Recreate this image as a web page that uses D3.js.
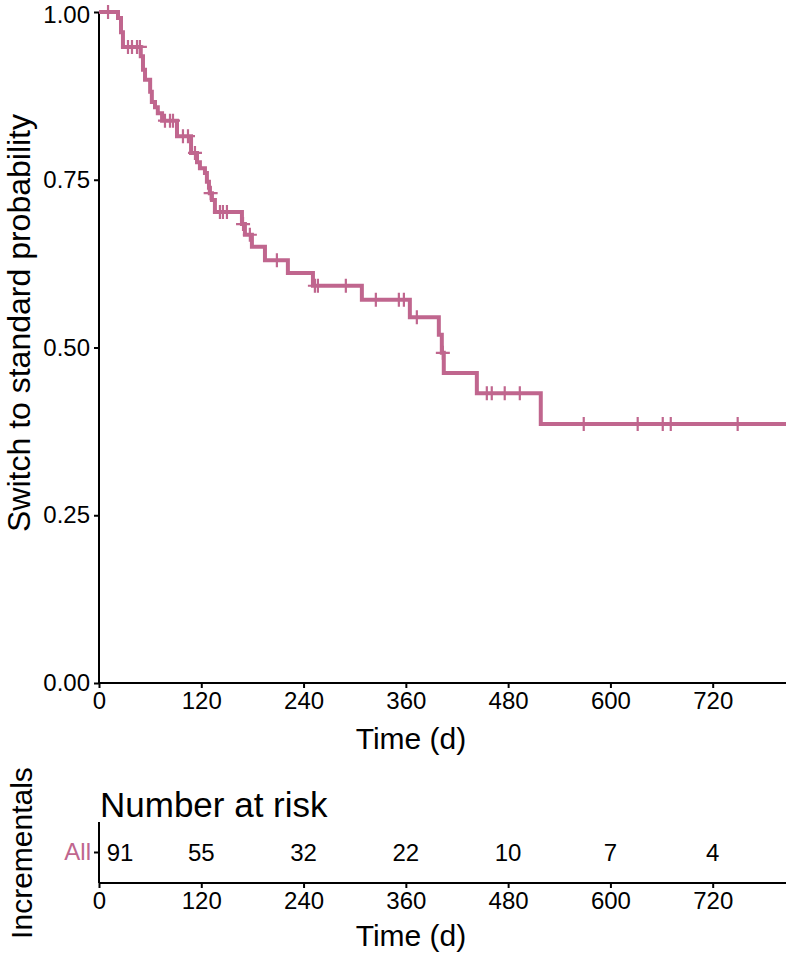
<!DOCTYPE html>
<html><head><meta charset="utf-8">
<script src="https://cdn.jsdelivr.net/npm/d3@7"></script>
<style>
html,body{margin:0;padding:0;background:#fff;}
svg text{font-family:"Liberation Sans",Arial,Helvetica,sans-serif;}
</style></head>
<body><div id="chart"></div>
<script>
// Event times (days) and survival after each drop
const eventTimes = [22.3, 25.8, 28.1, 49, 51.6, 54, 60, 62, 65.7, 69, 74, 91.5, 108, 115, 118.4, 124.3, 126.6, 129, 130, 132.5, 136, 167.7, 171.2, 179.4, 194.7, 221.6, 251, 308.4, 364.7, 398.7, 402.2, 404.5, 443.3, 518.3];
const survival   = [0.991, 0.970, 0.948, 0.934, 0.914, 0.899, 0.881, 0.866, 0.858, 0.849, 0.838, 0.815, 0.790, 0.776, 0.767, 0.760, 0.747, 0.738, 0.730, 0.720, 0.702, 0.684, 0.668, 0.650, 0.630, 0.611, 0.592, 0.571, 0.545, 0.519, 0.492, 0.462, 0.432, 0.386];
const censorTimes = [10.6, 34, 38.7, 44.6, 48, 77.4, 83.3, 86.8, 98.5, 104.4, 112.6, 131, 141.9, 145.4, 150.1, 169, 177, 208.7, 253.3, 256.8, 289.6, 324.8, 351.8, 357.7, 372.9, 403.4, 455, 460.8, 476, 493.7, 568.7, 632, 661.4, 670.8, 749.3];
const endTime = 806;
const xTicks = [0, 120, 240, 360, 480, 600, 720];
const yTicks = [0, 0.25, 0.5, 0.75, 1];
const riskTimes = [0, 120, 240, 360, 480, 600, 720];
const riskCounts = [91, 55, 32, 22, 10, 7, 4];
const groupLabel = "All";

const W = 788, H = 957;
const col = "#c0668e";
const svg = d3.select("#chart").append("svg").attr("width", W).attr("height", H);

const x = d3.scaleLinear().domain([0, endTime]).range([99, 786]);
const y = d3.scaleLinear().domain([0, 1]).range([683, 12]);

function styleAxis(g) {
  g.select(".domain").attr("stroke", "#000").attr("stroke-width", 2);
  g.selectAll(".tick line").attr("stroke", "#000").attr("stroke-width", 2);
  g.selectAll(".tick text").attr("fill", "#000").style("font-size", "24px");
}

// Axes
const yAxis = svg.append("g").attr("transform", `translate(${x(0)},0)`)
  .call(d3.axisLeft(y).tickValues(yTicks).tickFormat(d3.format(".2f")).tickSize(5).tickPadding(4));
const xAxis = svg.append("g").attr("transform", `translate(0,${y(0)})`)
  .call(d3.axisBottom(x).tickValues(xTicks).tickSize(5).tickPadding(4));
styleAxis(yAxis); styleAxis(xAxis);
// keep the top label inside the picture
yAxis.selectAll(".tick").filter(d => d === 1).select("text").attr("y", 3);
xAxis.select(".domain").attr("d", `M${x(0)},0H${x(endTime)}`);
yAxis.select(".domain").attr("d", `M0,${y(0)}V${y(1)}`);

// Curve
const pts = [[0, 1]].concat(eventTimes.map((t, i) => [t, survival[i]])).concat([[endTime, survival[survival.length - 1]]]);
svg.append("path").datum(pts)
  .attr("fill", "none").attr("stroke", col).attr("stroke-width", 4)
  .attr("d", d3.line().x(d => x(d[0])).y(d => y(d[1])).curve(d3.curveStepAfter));

const bis = d3.bisector(d => d).right;
function survAt(t) { const i = bis(eventTimes, t); return i === 0 ? 1 : survival[i - 1]; }
const cs = 7;
svg.append("g").selectAll("path").data(censorTimes).join("path")
  .attr("fill", "none").attr("stroke", col).attr("stroke-width", 2.2)
  .attr("d", t => {
    const cx = x(t), cy = y(survAt(t));
    return `M${cx - cs},${cy}H${cx + cs}M${cx},${cy - cs}V${cy + cs}`;
  });

// Titles
svg.append("text").attr("x", 411).attr("y", 749)
  .attr("text-anchor", "middle").style("font-size", "30px").text("Time (d)");
svg.append("text").attr("transform", `translate(30,323) rotate(-90)`)
  .attr("text-anchor", "middle").style("font-size", "32px").text("Switch to standard probability");

// Risk table
const ry = d3.scaleBand().domain([groupLabel]).range([822, 883]);
svg.append("text").attr("x", 100).attr("y", 817).style("font-size", "35px").text("Number at risk");
const rAxisY = svg.append("g").attr("transform", `translate(${x(0)},0)`)
  .call(d3.axisLeft(ry).tickSize(5).tickPadding(3));
const rAxisX = svg.append("g").attr("transform", `translate(0,883)`)
  .call(d3.axisBottom(x).tickValues(xTicks).tickSize(5).tickPadding(4));
styleAxis(rAxisY); styleAxis(rAxisX);
rAxisY.select(".domain").attr("d", `M0,883V822`);
rAxisX.select(".domain").attr("d", `M${x(0)},0H${x(endTime)}`);
rAxisY.selectAll(".tick text").attr("fill", col);

svg.append("g").selectAll("text").data(riskTimes).join("text")
  .attr("x", (t, i) => i === 0 ? x(t) + 21 : x(t))
  .attr("y", ry(groupLabel) + ry.bandwidth() / 2)
  .attr("dy", "0.35em").attr("text-anchor", "middle").style("font-size", "24px")
  .text((t, i) => riskCounts[i]);

svg.append("text").attr("x", 411).attr("y", 946)
  .attr("text-anchor", "middle").style("font-size", "30px").text("Time (d)");
svg.append("text").attr("transform", `translate(32,853) rotate(-90)`)
  .attr("text-anchor", "middle").style("font-size", "30px").text("Incrementals");
</script></body></html>
